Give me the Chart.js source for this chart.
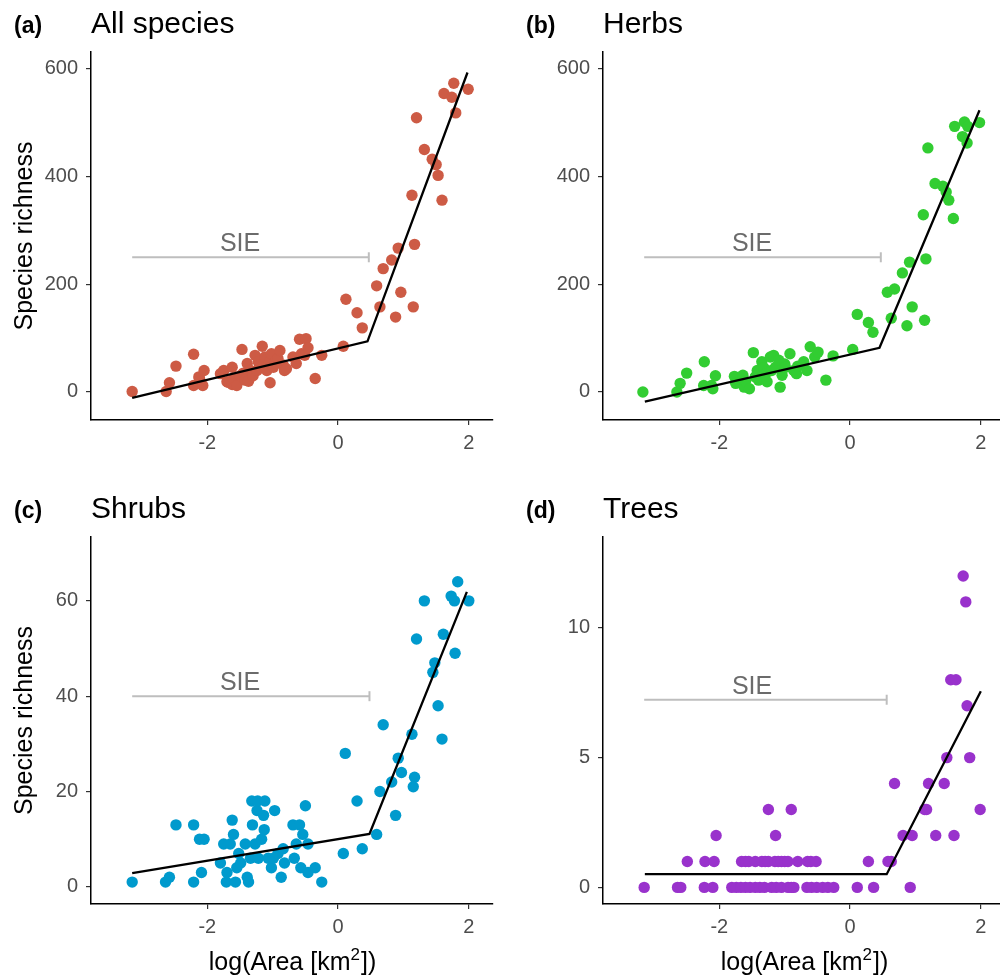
<!DOCTYPE html>
<html>
<head>
<meta charset="utf-8">
<script src="https://cdn.jsdelivr.net/npm/chart.js@4.4.1/dist/chart.umd.min.js"></script>
<style>
  body { margin: 0; background: #fff; overflow: hidden; }
  #wrap { position: relative; width: 1000px; height: 976px; overflow: hidden; }
  canvas { position: absolute; }
</style>
</head>
<body>
<div id="wrap">
  <canvas id="panelA" width="500" height="488" style="left:0;top:0"></canvas>
  <canvas id="panelB" width="500" height="488" style="left:512px;top:0"></canvas>
  <canvas id="panelC" width="500" height="491" style="left:0;top:485px"></canvas>
  <canvas id="panelD" width="500" height="491" style="left:512px;top:485px"></canvas>
</div>
<script>
// log(Area) ticks shared by all panels
const xTicks = [-2, 0, 2];
const allTicks = [0, 200, 400, 600];
const shrubTicks = [0, 20, 40, 60];
const treeTicks = [0, 5, 10];

// (a) all species
const allX = [-3.15, -2.63, -2.58, -2.48, -2.21, -2.21, -2.13, -2.12, -2.07, -2.05,
  -1.80, -1.75, -1.70, -1.68, -1.62, -1.62, -1.60, -1.55, -1.50, -1.47,
  -1.45, -1.42, -1.39, -1.37, -1.34, -1.30, -1.27, -1.24, -1.22, -1.20,
  -1.16, -1.12, -1.09, -1.05, -1.04, -1.02, -0.99, -0.95, -0.92, -0.89,
  -0.84, -0.82, -0.79, -0.69, -0.64, -0.59, -0.56, -0.51, -0.49, -0.46,
  -0.35, -0.25, 0.08, 0.12, 0.29, 0.37, 0.59, 0.64, 0.69, 0.82,
  0.88, 0.92, 0.96, 1.13, 1.15, 1.17, 1.20, 1.32, 1.44, 1.50,
  1.53, 1.59, 1.62, 1.74, 1.77, 1.80, 1.99];
const allY = [1, 1, 17, 48, 70, 12, 28, 25, 12, 40,
  34, 40, 19, 18, 46, 14, 25, 12, 30, 79,
  35, 22, 53, 20, 40, 30, 68, 40, 56, 50,
  85, 65, 40, 55, 17, 71, 46, 58, 62, 77,
  50, 40, 43, 65, 53, 98, 71, 68, 99, 82,
  25, 68, 85, 172, 147, 119, 197, 158, 229, 245,
  139, 267, 185, 365, 158, 274, 509, 450, 432, 422,
  402, 356, 554, 547, 573, 518, 562];
const allFitX = [-3.15, 0.45, 1.98];
const allFitY = [-11, 94, 593];

// (b) herbs
const herbX = [-3.17, -2.65, -2.60, -2.50, -2.24, -2.23, -2.12, -2.10, -2.06, -1.77,
  -1.75, -1.64, -1.62, -1.60, -1.54, -1.48, -1.45, -1.42, -1.40, -1.35,
  -1.32, -1.29, -1.27, -1.22, -1.20, -1.17, -1.14, -1.09, -1.07, -1.04,
  -1.00, -0.99, -0.92, -0.86, -0.82, -0.80, -0.71, -0.66, -0.61, -0.54,
  -0.49, -0.37, -0.26, 0.04, 0.11, 0.28, 0.35, 0.57, 0.63, 0.68,
  0.80, 0.87, 0.91, 0.95, 1.12, 1.14, 1.16, 1.19, 1.30, 1.42,
  1.47, 1.51, 1.58, 1.60, 1.72, 1.75, 1.79, 1.80, 1.98];
const herbY = [0, 0, 16, 35, 12, 56, 12, 6, 30, 29,
  16, 31, 9, 20, 6, 73, 28, 40, 22, 56,
  45, 34, 19, 65, 40, 68, 46, 59, 9, 31,
  52, 46, 71, 40, 34, 48, 56, 40, 84, 65,
  74, 22, 67, 79, 144, 129, 111, 185, 137, 191,
  221, 123, 241, 158, 329, 133, 247, 453, 387, 382,
  371, 356, 322, 493, 474, 501, 462, 493, 500];
const herbFitX = [-3.14, 0.45, 1.98];
const herbFitY = [-18, 82, 523];

// (c) shrubs
const shrubX = [-3.15, -2.64, -2.58, -2.48, -2.21, -2.21, -2.12, -2.09, -2.05, -1.80,
  -1.75, -1.71, -1.70, -1.65, -1.62, -1.60, -1.57, -1.55, -1.52, -1.49,
  -1.42, -1.39, -1.37, -1.34, -1.32, -1.31, -1.27, -1.24, -1.23, -1.22,
  -1.17, -1.14, -1.13, -1.12, -1.07, -1.02, -0.99, -0.97, -0.92, -0.87,
  -0.84, -0.82, -0.69, -0.67, -0.64, -0.59, -0.57, -0.54, -0.50, -0.46,
  -0.46, -0.35, -0.25, 0.08, 0.11, 0.29, 0.37, 0.59, 0.64, 0.69,
  0.82, 0.88, 0.92, 0.97, 1.13, 1.15, 1.17, 1.20, 1.32, 1.45,
  1.48, 1.53, 1.59, 1.61, 1.73, 1.78, 1.79, 1.83, 2.00];
const shrubY = [1, 1, 2, 13, 13, 1, 10, 3, 10, 5,
  9, 1, 3, 9, 14, 11, 1, 4, 7, 5,
  9, 2, 1, 6, 18, 13, 9, 16, 18, 6,
  10, 15, 12, 18, 6, 4, 6, 16, 7, 2,
  8, 5, 13, 6, 9, 13, 4, 11, 17, 9,
  3, 4, 1, 7, 28, 18, 8, 11, 20, 34,
  22, 15, 27, 24, 32, 21, 23, 52, 60, 45,
  47, 38, 31, 53, 61, 60, 49, 64, 60];
const shrubFitX = [-3.15, 0.48, 1.97];
const shrubFitY = [2.9, 11.1, 61.9];

// (d) trees
const treeX = [-3.15, -2.64, -2.59, -2.23, -2.10, -1.81, -1.74, -1.67, -1.60, -1.53,
  -1.45, -1.38, -1.31, -1.20, -1.13, -1.05, -0.95, -0.90, -0.86, -0.66,
  -0.59, -0.51, -0.42, -0.34, -0.25, 0.11, 0.36, 0.92,
  -2.49, -2.22, -2.08, -1.66, -1.60, -1.55, -1.45, -1.35, -1.30, -1.25,
  -1.15, -1.10, -1.05, -1.00, -0.95, -0.80, -0.65, -0.60, -0.52, 0.28,
  0.58, 0.63,
  -2.05, -1.14, 0.81, 0.95, 1.31, 1.59,
  -1.25, -0.90, 1.14, 1.17, 1.99,
  0.68, 1.20, 1.44,
  1.48, 1.83,
  1.79,
  1.54, 1.62,
  1.77,
  1.73];
const treeY = [0, 0, 0, 0, 0, 0, 0, 0, 0, 0,
  0, 0, 0, 0, 0, 0, 0, 0, 0, 0,
  0, 0, 0, 0, 0, 0, 0, 0,
  1, 1, 1, 1, 1, 1, 1, 1, 1, 1,
  1, 1, 1, 1, 1, 1, 1, 1, 1, 1,
  1, 1,
  2, 2, 2, 2, 2, 2,
  3, 3, 3, 3, 3,
  4, 4, 4,
  5, 5,
  7,
  8, 8,
  11,
  12];
const treeFitX = [-3.14, 0.56, 2.0];
const treeFitY = [0.51, 0.51, 7.56];

// SIE bars: start, end (breakpoint) and height per panel
const sieStart = -3.15;
const sieLabelX = -1.5;

const FONT = '"Liberation Sans", Arial, Helvetica, sans-serif';
Chart.defaults.font.family = FONT;

function toPoints(xs, ys) {
  return xs.map((x, i) => ({ x: x, y: ys[i] }));
}

// panel tag, title, SIE text and the x title with its superscript
const panelText = {
  id: "panelText",
  afterDatasetsDraw(chart, args, opts) {
    const ctx = chart.ctx;
    const xs = chart.scales.x;
    const ys = chart.scales.y;
    const area = chart.chartArea;
    ctx.save();
    ctx.fillStyle = "#000";
    ctx.textBaseline = "alphabetic";
    ctx.textAlign = "left";
    ctx.font = "bold 23px " + FONT;
    ctx.fillText(opts.tag, 14, 33);
    ctx.font = "30px " + FONT;
    ctx.fillText(opts.title, area.left, 33);

    if (opts.xTitle) {
      const a = "log(Area [km", b = "2", c = "])";
      ctx.font = "25px " + FONT;
      const wa = ctx.measureText(a).width;
      const wc = ctx.measureText(c).width;
      ctx.font = "17px " + FONT;
      const wb = ctx.measureText(b).width;
      let x0 = (area.left + area.right) / 2 - (wa + wb + wc) / 2;
      const base = 485;
      ctx.font = "25px " + FONT;
      ctx.fillText(a, x0, base);
      ctx.font = "17px " + FONT;
      ctx.fillText(b, x0 + wa, base - 10);
      ctx.font = "25px " + FONT;
      ctx.fillText(c, x0 + wa + wb + 1, base);
    }

    ctx.fillStyle = "#6b6b6b";
    ctx.font = "25px " + FONT;
    ctx.textAlign = "center";
    ctx.fillText("SIE", xs.getPixelForValue(sieLabelX), ys.getPixelForValue(opts.sieY) - 6);
    ctx.restore();
  },
};

function drawPanel(id, p) {
  new Chart(document.getElementById(id), {
    type: "scatter",
    data: {
      datasets: [
        {
          data: toPoints(p.fitX, p.fitY),
          showLine: true,
          borderColor: "#000",
          borderWidth: 2.3,
          pointRadius: 0,
          order: 0,
        },
        {
          data: [{ x: sieStart, y: p.sieY }, { x: p.sieEnd, y: p.sieY }],
          showLine: true,
          borderColor: "#bebebe",
          borderWidth: 2,
          pointRadius: [0, 5],
          pointStyle: "line",
          pointRotation: 90,
          pointBorderColor: "#bebebe",
          pointBorderWidth: 2,
          order: 1,
        },
        {
          data: toPoints(p.xs, p.ys),
          pointBackgroundColor: p.color,
          pointBorderWidth: 0,
          pointRadius: 5.7,
          order: 2,
        },
      ],
    },
    options: {
      responsive: false,
      animation: false,
      events: [],
      layout: { padding: { top: 52, left: 0, right: 2, bottom: 0 } },
      plugins: {
        legend: { display: false },
        tooltip: { enabled: false },
        panelText: { tag: p.tag, title: p.title, sieY: p.sieY, xTitle: p.xTitle },
      },
      scales: {
        x: {
          type: "linear",
          min: -3.78,
          max: 2.37,
          afterBuildTicks: (s) => { s.ticks = xTicks.map((v) => ({ value: v })); },
          afterFit: (s) => { s.height = p.xHeight; },
          grid: { drawOnChartArea: false, drawTicks: true, tickLength: 5, color: "#333", lineWidth: 1.2 },
          border: { color: "#000", width: 1.5 },
          ticks: { color: "#4d4d4d", font: { size: 20 }, padding: 6, maxRotation: 0 },
        },
        y: {
          type: "linear",
          min: p.yMin,
          max: p.yMax,
          afterBuildTicks: (s) => { s.ticks = p.yTicks.map((v) => ({ value: v })); },
          afterFit: (s) => { s.width = 91; },
          grid: { drawOnChartArea: false, drawTicks: true, tickLength: 5, color: "#333", lineWidth: 1.2 },
          border: { color: "#000", width: 1.5 },
          ticks: { color: "#4d4d4d", font: { size: 20 }, padding: 8 },
          title: {
            display: p.yTitle,
            text: "Species richness",
            color: "#000",
            font: { size: 25 },
            padding: { top: 10, bottom: 0 },
          },
        },
      },
    },
    plugins: [panelText],
  });
}

drawPanel("panelA", {
  tag: "(a)", title: "All species", color: "#CD5B45",
  xs: allX, ys: allY, fitX: allFitX, fitY: allFitY,
  sieEnd: 0.47, sieY: 250,
  yMin: -52, yMax: 631, yTicks: allTicks,
  xHeight: 68, xTitle: false, yTitle: true,
});

drawPanel("panelB", {
  tag: "(b)", title: "Herbs", color: "#32CD32",
  xs: herbX, ys: herbY, fitX: herbFitX, fitY: herbFitY,
  sieEnd: 0.47, sieY: 250,
  yMin: -52, yMax: 631, yTicks: allTicks,
  xHeight: 68, xTitle: false, yTitle: false,
});

drawPanel("panelC", {
  tag: "(c)", title: "Shrubs", color: "#009ACD",
  xs: shrubX, ys: shrubY, fitX: shrubFitX, fitY: shrubFitY,
  sieEnd: 0.48, sieY: 40,
  yMin: -3.6, yMax: 73.4, yTicks: shrubTicks,
  xHeight: 72, xTitle: true, yTitle: true,
});

drawPanel("panelD", {
  tag: "(d)", title: "Trees", color: "#9932CC",
  xs: treeX, ys: treeY, fitX: treeFitX, fitY: treeFitY,
  sieEnd: 0.56, sieY: 7.23,
  yMin: -0.64, yMax: 13.5, yTicks: treeTicks,
  xHeight: 72, xTitle: true, yTitle: false,
});
</script>
</body>
</html>
